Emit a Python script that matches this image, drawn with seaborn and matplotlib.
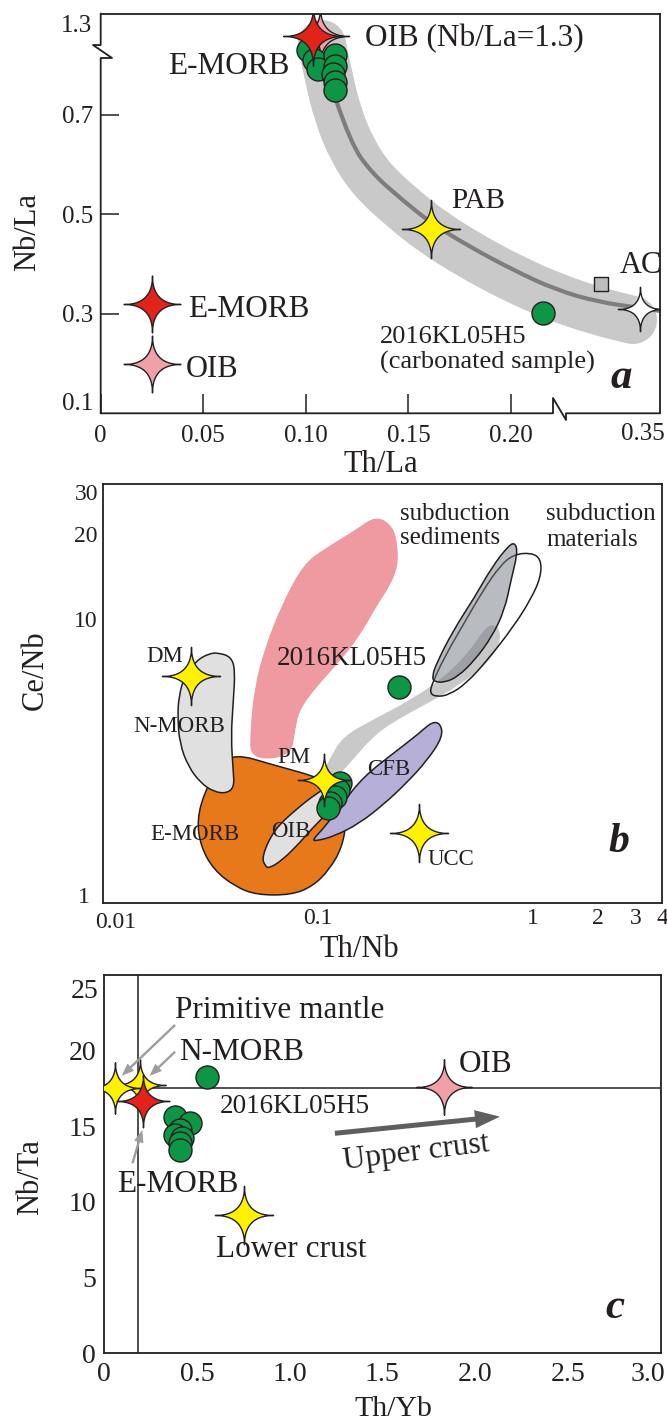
import numpy as np
import matplotlib
matplotlib.use("Agg")
import matplotlib.pyplot as plt
import seaborn as sns
from matplotlib.path import Path
from matplotlib.patches import PathPatch
from matplotlib.ticker import FixedLocator, FixedFormatter, NullFormatter

sns.set_theme(style="white")
plt.rcParams["font.family"] = ["Liberation Serif", "DejaVu Serif"]
plt.rcParams["axes.unicode_minus"] = False

INK = "#231f20"
GREEN = "#0e9647"
RED = "#e2231a"
PINK = "#f2a0a8"
YELLOW = "#fff200"
WHITE = "#ffffff"
ORANGE = "#e8791b"
PURPLE = "#b6b0d9"
LGRAY = "#e0e0e0"
BANDGRAY = "#c9c9c9"
PINKFIELD = "#ef9aa1"

# ---------------- panel a : Th/La vs Nb/La ----------------
a_circ_thla = [0.101, 0.104, 0.114, 0.106, 0.114, 0.113, 0.114, 0.114, 0.2155]
a_circ_nbla = [0.95, 0.85, 0.90, 0.793, 0.798, 0.782, 0.766, 0.750, 0.302]
a_star_name = ["OIB", "E-MORB", "PAB", "AC", "E-MORB key", "OIB key"]
a_star_thla = [0.107, 0.1036, 0.161, 0.34, 0.025, 0.025]
a_star_nbla = [1.09, 1.09, 0.47, 0.31, 0.32, 0.20]
a_star_col = [PINK, RED, YELLOW, WHITE, RED, PINK]
a_star_size = [42, 43, 42, 32, 41, 41]
a_sq_thla = [0.32]
a_sq_nbla = [0.36]
# trend band and trend line (positions on the drawn, broken axes)
a_band_x = [0.1078, 0.1108, 0.1156, 0.1225, 0.1322, 0.1468, 0.1614, 0.1800, 0.2009, 0.2219, 0.2424, 0.2594]
a_band_y = [0.8423, 0.7800, 0.6996, 0.6293, 0.5690, 0.5137, 0.4655, 0.4173, 0.3710, 0.3328, 0.3046, 0.2875]
a_line_x = [0.1147, 0.1217, 0.1321, 0.1467, 0.1613, 0.1800, 0.2009, 0.2217, 0.2424, 0.2633, 0.2726]
a_line_y = [0.7297, 0.6433, 0.5830, 0.5298, 0.4815, 0.4344, 0.3883, 0.3484, 0.3237, 0.3117, 0.3057]

# ---------------- panel b : Th/Nb vs Ce/Nb ----------------
pink_x = [0.0485, 0.0485, 0.0508, 0.0569, 0.0684, 0.0859, 0.108, 0.149, 0.187, 0.225, 0.2355, 0.2355,
          0.215, 0.187, 0.156, 0.124, 0.0986, 0.0821, 0.0785, 0.075]
pink_y = [3.20, 4.08, 5.79, 8.01, 11.4, 15.7, 17.8, 20.6, 23.3, 21.2, 18.0, 15.3,
          13.0, 11.1, 8.69, 7.00, 5.79, 4.80, 4.08, 3.28]
nmorb_x = [0.0344, 0.0395, 0.0413, 0.0404, 0.0395, 0.0404, 0.0409, 0.0377, 0.0329, 0.0286, 0.0250,
           0.0228, 0.0223, 0.0226, 0.0239, 0.0274, 0.0314]
nmorb_y = [7.63, 7.39, 6.63, 5.06, 3.86, 2.95, 2.57, 2.44, 2.47, 2.65, 3.03, 3.66, 4.54, 5.34, 6.28, 7.19, 7.59]
emorb_x = [0.0404, 0.0624, 0.0986, 0.124, 0.136, 0.130, 0.113, 0.0942, 0.075, 0.052, 0.0413, 0.0329,
           0.0286, 0.0274, 0.030, 0.0344]
emorb_y = [3.38, 3.07, 2.79, 2.57, 1.97, 1.58, 1.31, 1.145, 1.07, 1.07, 1.145, 1.31, 1.58, 1.97, 2.51, 2.95]
oib_x = [0.0569, 0.0549, 0.0624, 0.0785, 0.0986, 0.1186, 0.130, 0.124, 0.0986, 0.0822, 0.0684, 0.0596]
oib_y = [1.35, 1.46, 1.81, 2.13, 2.44, 2.65, 2.51, 2.25, 1.91, 1.63, 1.42, 1.33]
cfb_x = [0.0942, 0.108, 0.130, 0.163, 0.225, 0.296, 0.340, 0.372, 0.381, 0.324, 0.258, 0.205, 0.156, 0.1186, 0.0986]
cfb_y = [1.67, 1.86, 2.25, 2.79, 3.38, 3.97, 4.36, 4.30, 3.86, 3.20, 2.65, 2.25, 1.91, 1.72, 1.66]
bandb_x = [0.1009, 0.113, 0.130, 0.179, 0.270, 0.389, 0.513, 0.588, 0.645, 0.700, 0.706, 0.615, 0.468,
           0.324, 0.247, 0.187, 0.149, 0.124]
bandb_y = [2.68, 3.20, 3.86, 4.42, 5.20, 6.28, 7.80, 9.17, 9.63, 9.30, 8.23, 7.00, 5.95, 5.06, 4.54, 3.97, 3.28, 2.79]
sed_x = [0.340, 0.356, 0.427, 0.537, 0.645, 0.775, 0.829, 0.848, 0.792, 0.739, 0.645, 0.537, 0.447, 0.389, 0.348]
sed_y = [6.28, 7.00, 9.17, 12.0, 15.3, 18.3, 18.6, 17.1, 13.8, 10.8, 8.69, 7.19, 6.28, 6.00, 6.03]
mat_x = [0.332, 0.340, 0.389, 0.468, 0.588, 0.706, 0.811, 0.973, 1.09, 1.09, 0.973, 0.811, 0.615, 0.490, 0.407, 0.356]
mat_y = [5.49, 5.95, 7.39, 9.42, 12.7, 15.5, 16.9, 17.2, 16.4, 14.1, 11.7, 9.42, 7.19, 5.95, 5.42, 5.34]
b_circ_thnb = [0.2376, 0.1273, 0.1245, 0.1206, 0.1143, 0.1119]
b_circ_cenb = [5.78, 2.65, 2.50, 2.36, 2.25, 2.16]
b_star_name = ["DM", "PM", "UCC"]
b_star_thnb = [0.0256, 0.1064, 0.296]
b_star_cenb = [6.30, 2.71, 1.77]
b_star_size = [42, 38, 42]

# ---------------- panel c : Th/Yb vs Nb/Ta ----------------
c_circ_thyb = [0.552, 0.382, 0.463, 0.406, 0.382, 0.417, 0.406, 0.406]
c_circ_nbta = [18.26, 15.64, 15.2, 14.76, 14.43, 14.21, 13.88, 13.44]
c_star_name = ["N-MORB", "Primitive mantle", "E-MORB", "OIB", "Lower crust"]
c_star_thyb = [0.193, 0.058, 0.209, 1.834, 0.751]
c_star_nbta = [17.7, 17.5, 16.7, 17.6, 9.12]
c_star_col = [YELLOW, YELLOW, RED, PINK, YELLOW]
c_star_size = [37, 37, 38, 40, 42]
c_vline_thyb = 0.183
c_hline_nbta = 17.5
c_upper_arrow = [(1.244, 14.54), (2.134, 15.64)]
c_gray_arrows = [((0.382, 21.7), (0.094, 18.34)),
                 ((0.382, 19.93), (0.244, 18.33)),
                 ((0.152, 12.56), (0.205, 14.76))]

# ---------------- helpers ----------------
W, H = 667, 1425
fig = plt.figure(figsize=(W / 100, H / 100), dpi=100)
fig.patch.set_facecolor("white")


def add_ax(l, t, r, b):
    return fig.add_axes([l / W, 1 - b / H, (r - l) / W, (b - t) / H])


def star_marker(p=4.0, n=240):
    t = np.linspace(0, 2 * np.pi, n, endpoint=False)
    c, s = np.cos(t), np.sin(t)
    v = np.column_stack([np.sign(c) * np.abs(c) ** p, np.sign(s) * np.abs(s) ** p])
    v = np.vstack([v, v[:1]])
    codes = [Path.MOVETO] + [Path.LINETO] * (n - 1) + [Path.CLOSEPOLY]
    return Path(v, codes)


STAR = star_marker()


def smooth_closed(xs, ys, logx=False, logy=False):
    X = np.log10(xs) if logx else np.asarray(xs, float)
    Y = np.log10(ys) if logy else np.asarray(ys, float)
    P = np.column_stack([X, Y])
    M = (P + np.roll(P, -1, axis=0)) / 2
    verts = [M[-1]]
    codes = [Path.MOVETO]
    for i in range(len(P)):
        verts += [P[i], M[i]]
        codes += [Path.CURVE3, Path.CURVE3]
    verts.append(M[-1])
    codes.append(Path.CLOSEPOLY)
    V = np.array(verts)
    if logx:
        V[:, 0] = 10 ** V[:, 0]
    if logy:
        V[:, 1] = 10 ** V[:, 1]
    return Path(V, codes)


def smooth_open(xs, ys):
    P = np.column_stack([xs, ys]).astype(float)
    verts = [P[0]]
    codes = [Path.MOVETO]
    for i in range(1, len(P) - 1):
        verts += [P[i], (P[i] + P[i + 1]) / 2]
        codes += [Path.CURVE3, Path.CURVE3]
    verts.append(P[-1])
    codes.append(Path.LINETO)
    return Path(np.array(verts), codes)


def ftext(xpx, ybase, s, fs, ha="left", **kw):
    fig.text(xpx / W, 1 - ybase / H, s, fontsize=fs, ha=ha, va="baseline", color=INK, **kw)


def stars(ax, xs, ys, col, size, z):
    sns.scatterplot(x=list(xs), y=list(ys), marker=STAR, s=size ** 2, color=col,
                    edgecolor=INK, linewidth=1.0, zorder=z, ax=ax, legend=False)


def circles(ax, xs, ys, z=6):
    sns.scatterplot(x=list(xs), y=list(ys), marker="o", s=275, color=GREEN,
                    edgecolor=INK, linewidth=1.0, zorder=z, ax=ax, legend=False)


def style_spines(ax):
    for sp in ax.spines.values():
        sp.set_color(INK)
        sp.set_linewidth(1.3)
    ax.grid(False)
    ax.set_facecolor("white")


# ======================= panel a =======================
axA = add_ax(100.7, 13.5, 660.0, 413.3)
style_spines(axA)
A_XMAX = (660.0 - 100.7) / 2052.0
A_YMAX = 0.1 + 399.8 / 497.5


def a_x(v):
    v = np.asarray(v, float)
    return np.where(v <= 0.22, v, 0.225 + (v - 0.30) * 0.95)


def a_y(v):
    v = np.asarray(v, float)
    return np.where(v <= 0.80, v, 0.80 + (v - 0.80) * 0.2)


axA.add_patch(PathPatch(smooth_open(a_band_x, a_band_y), fill=False, edgecolor=BANDGRAY,
                        lw=34.6, capstyle="round", joinstyle="round", zorder=1))
axA.add_patch(PathPatch(smooth_open(a_line_x, a_line_y), fill=False, edgecolor="#7d7d7d",
                        lw=3.0, capstyle="butt", joinstyle="round", zorder=2))
sns.scatterplot(x=list(a_x(a_sq_thla)), y=list(a_y(a_sq_nbla)), marker="s", s=90, color="#bdbdbd",
                edgecolor=INK, linewidth=1.0, zorder=5, ax=axA, legend=False)
sx, sy = a_x(a_star_thla), a_y(a_star_nbla)
# pink OIB star under circles, red E-MORB on top
stars(axA, [sx[0]], [sy[0]], a_star_col[0], a_star_size[0], 4)
circles(axA, a_x(a_circ_thla), a_y(a_circ_nbla), z=6)
for i in range(1, len(a_star_name)):
    stars(axA, [sx[i]], [sy[i]], a_star_col[i], a_star_size[i], 7)

axA.set_xlim(0, A_XMAX)
axA.set_ylim(0.1, A_YMAX)
axA.set_xticks([0, 0.05, 0.10, 0.15, 0.20], ["0", "0.05", "0.10", "0.15", "0.20"])
axA.set_yticks([0.3, 0.5, 0.7], ["0.3", "0.5", "0.7"])
axA.tick_params(axis="x", direction="in", length=13.7, width=1.1, labelsize=18, pad=8.4,
                colors=INK, top=False, bottom=True)
axA.tick_params(axis="y", direction="in", length=12.6, width=1.1, labelsize=18, pad=5.3,
                colors=INK, left=True, right=False)
# broken axes
axA.spines["bottom"].set_visible(False)
axA.spines["left"].set_visible(False)
fx553, fx566 = (553 - 100.7) / 559.3, (566 - 100.7) / 559.3
axA.plot([0, fx553, fx553, fx566, fx566, 1], [0, 0, 0.0383, -0.0168, 0, 0],
         transform=axA.transAxes, color=INK, lw=1.3, clip_on=False, zorder=10)
axA.plot([0, 0, 0.0202, -0.0138, 0, 0], [0, 0.8887, 0.8887, 0.9212, 0.9212, 1],
         transform=axA.transAxes, color=INK, lw=1.3, clip_on=False, zorder=10)
ftext(93.3, 410, "0.1", 18, ha="right")
ftext(92, 31.7, "1.3", 18, ha="right")
ftext(642.5, 440, "0.35", 18, ha="center")

axA.set_xlabel("Th/La", fontsize=22, color=INK)
axA.xaxis.set_label_coords(0.5, -0.1468)
axA.xaxis.label.set_va("baseline")
axA.set_ylabel("Nb/La", fontsize=22, color=INK)
axA.yaxis.set_label_coords(-0.1300, 0.4535)
axA.yaxis.label.set_va("center")

ftext(365, 46.7, "OIB (Nb/La=1.3)", 22.5)
ftext(168.5, 74, "E-MORB", 22.5)
ftext(451, 208, "PAB", 21)
ftext(620, 273, "AC", 22)
ftext(188, 316.7, "E-MORB", 22.5)
ftext(186, 376.7, "OIB", 22)
ftext(380, 343, "2016KL05H5", 19)
ftext(380, 369, "(carbonated sample)", 19)
ftext(621, 388, "a", 31, ha="center", fontweight="bold", fontstyle="italic")

# ======================= panel b =======================
axB = add_ax(102.7, 484.0, 662.4, 903.3)
style_spines(axB)
axB.set_xscale("log")
axB.set_yscale("log")


def field(ax, xs, ys, fc, ec, z, lw=1.1):
    ax.add_patch(PathPatch(smooth_closed(xs, ys, True, True), facecolor=fc, edgecolor=ec, lw=lw, zorder=z))


field(axB, pink_x, pink_y, PINKFIELD, "none", 1)
field(axB, emorb_x, emorb_y, ORANGE, INK, 2)
field(axB, nmorb_x, nmorb_y, LGRAY, INK, 3)
field(axB, bandb_x, bandb_y, BANDGRAY, "none", 2.5)
field(axB, oib_x, oib_y, LGRAY, INK, 3.5)
field(axB, cfb_x, cfb_y, PURPLE, INK, 4)
field(axB, mat_x, mat_y, "none", INK, 4.2)
field(axB, sed_x, sed_y, (0.45, 0.47, 0.50, 0.5), INK, 4.4)

circles(axB, b_circ_thnb, b_circ_cenb, z=6)
for i in range(len(b_star_name)):
    stars(axB, [b_star_thnb[i]], [b_star_cenb[i]], YELLOW, b_star_size[i], 7)

axB.set_xlim(0.01, 4)
axB.set_ylim(1, 30)
axB.xaxis.set_major_locator(FixedLocator([0.01, 0.1, 1, 4]))
axB.xaxis.set_major_formatter(FixedFormatter(["", "0.1", "1", "4"]))
xminor = [0.02, 0.03, 0.04, 0.05, 0.06, 0.07, 0.08, 0.09,
          0.2, 0.3, 0.4, 0.5, 0.6, 0.7, 0.8, 0.9, 2, 3]
axB.xaxis.set_minor_locator(FixedLocator(xminor))
axB.xaxis.set_minor_formatter(FixedFormatter([""] * 16 + ["2", "3"]))
axB.yaxis.set_major_locator(FixedLocator([1, 10, 20, 30]))
axB.yaxis.set_major_formatter(FixedFormatter(["", "10", "20", ""]))
axB.yaxis.set_minor_locator(FixedLocator([2, 3, 4, 5, 6, 7, 8, 9]))
axB.yaxis.set_minor_formatter(NullFormatter())
axB.tick_params(axis="both", which="both", direction="in", width=1.1, colors=INK,
                labelsize=17, top=False, right=False)
axB.tick_params(axis="x", which="both", pad=3.4)
axB.tick_params(axis="y", which="both", pad=3.8)
axB.tick_params(axis="x", which="major", length=12)
axB.tick_params(axis="x", which="minor", length=7.5)
axB.tick_params(axis="y", which="major", length=12)
axB.tick_params(axis="y", which="minor", length=9)
ftext(115.5, 928, "0.01", 17, ha="center")
ftext(98.3, 500, "30", 17, ha="right")
ftext(90, 903, "1", 17, ha="right")

axB.set_xlabel("Th/Nb", fontsize=22, color=INK)
axB.xaxis.set_label_coords((359 - 102.7) / 559.7, (903.3 - 957) / 419.3)
axB.xaxis.label.set_va("baseline")
axB.set_ylabel("Ce/Nb", fontsize=22, color=INK)
axB.yaxis.set_label_coords((35 - 102.7) / 559.7, 0.5564)
axB.yaxis.label.set_va("center")

ftext(399.6, 520, "subduction", 18)
ftext(399.6, 544, "sediments", 18)
ftext(546, 520, "subduction", 18)
ftext(546, 546, "materials", 18)
ftext(165, 662, "DM", 16.5, ha="center")
ftext(179, 732, "N-MORB", 16.5, ha="center")
ftext(352, 665, "2016KL05H5", 19.5, ha="center")
ftext(294, 763, "PM", 16.5, ha="center")
ftext(389, 775, "CFB", 16.5, ha="center")
ftext(195, 840, "E-MORB", 16.5, ha="center")
ftext(291, 837, "OIB", 16.5, ha="center")
ftext(451, 865, "UCC", 16.5, ha="center")
ftext(619, 852, "b", 30, ha="center", fontweight="bold", fontstyle="italic")

# ======================= panel c =======================
axC = add_ax(104.3, 975.0, 660.5, 1353.3)
style_spines(axC)
axC.axvline(c_vline_thyb, color=INK, lw=1.1, zorder=1)
axC.axhline(c_hline_nbta, color=INK, lw=1.1, zorder=1)
circles(axC, c_circ_thyb, c_circ_nbta, z=5)
for i in range(len(c_star_name)):
    stars(axC, [c_star_thyb[i]], [c_star_nbta[i]], c_star_col[i], c_star_size[i], 6 + i * 0.1)

axC.annotate("", xy=c_upper_arrow[1], xytext=c_upper_arrow[0],
             arrowprops=dict(arrowstyle="simple,head_length=1.8,head_width=1.3,tail_width=0.36",
                             fc="#5f5f5f", ec="none", mutation_scale=10, shrinkA=0, shrinkB=0),
             zorder=4)
for start, end in c_gray_arrows:
    axC.annotate("", xy=end, xytext=start,
                 arrowprops=dict(arrowstyle="simple,head_length=0.9,head_width=0.7,tail_width=0.17",
                                 fc="#9d9d9d", ec="none", mutation_scale=10, shrinkA=0, shrinkB=0),
                 zorder=8)

axC.set_xlim(0, 3)
axC.set_ylim(0, 25)
axC.set_xticks([0, 0.5, 1.0, 1.5, 2.0, 2.5, 3.0], ["0", "0.5", "1.0", "1.5", "2.0", "2.5", ""])
axC.set_yticks([0, 5, 10, 15, 20, 25], ["0", "5", "10", "15", "20", ""])
axC.tick_params(axis="both", direction="in", length=9.4, width=1.1, labelsize=20, pad=6,
                colors=INK, top=False, right=False)
ftext(647.5, 1381, "3.0", 20, ha="center")
ftext(98.3, 998.3, "25", 20, ha="right")

axC.set_xlabel("Th/Yb", fontsize=21.5, color=INK)
axC.xaxis.set_label_coords((393 - 104.3) / 556.2, (1353.3 - 1416) / 378.3)
axC.xaxis.label.set_va("baseline")
axC.set_ylabel("Nb/Ta", fontsize=22, color=INK)
axC.yaxis.set_label_coords((31 - 104.3) / 556.2, 0.4647)
axC.yaxis.label.set_va("center")

ftext(175, 1018, "Primitive mantle", 22.5)
ftext(179, 1060, "N-MORB", 22.5)
ftext(459, 1071.7, "OIB", 22.5)
ftext(220, 1113, "2016KL05H5", 19.5)
ftext(117, 1191.7, "E-MORB", 22.5)
ftext(216, 1256.7, "Lower crust", 22.5)
fig.text(416.7 / W, 1 - 1153 / H, "Upper crust", fontsize=22.5, color=INK, rotation=7,
         ha="center", va="center", rotation_mode="anchor")
ftext(615, 1318, "c", 31, ha="center", fontweight="bold", fontstyle="italic")

fig.savefig("out.png", dpi=100, facecolor="white")
